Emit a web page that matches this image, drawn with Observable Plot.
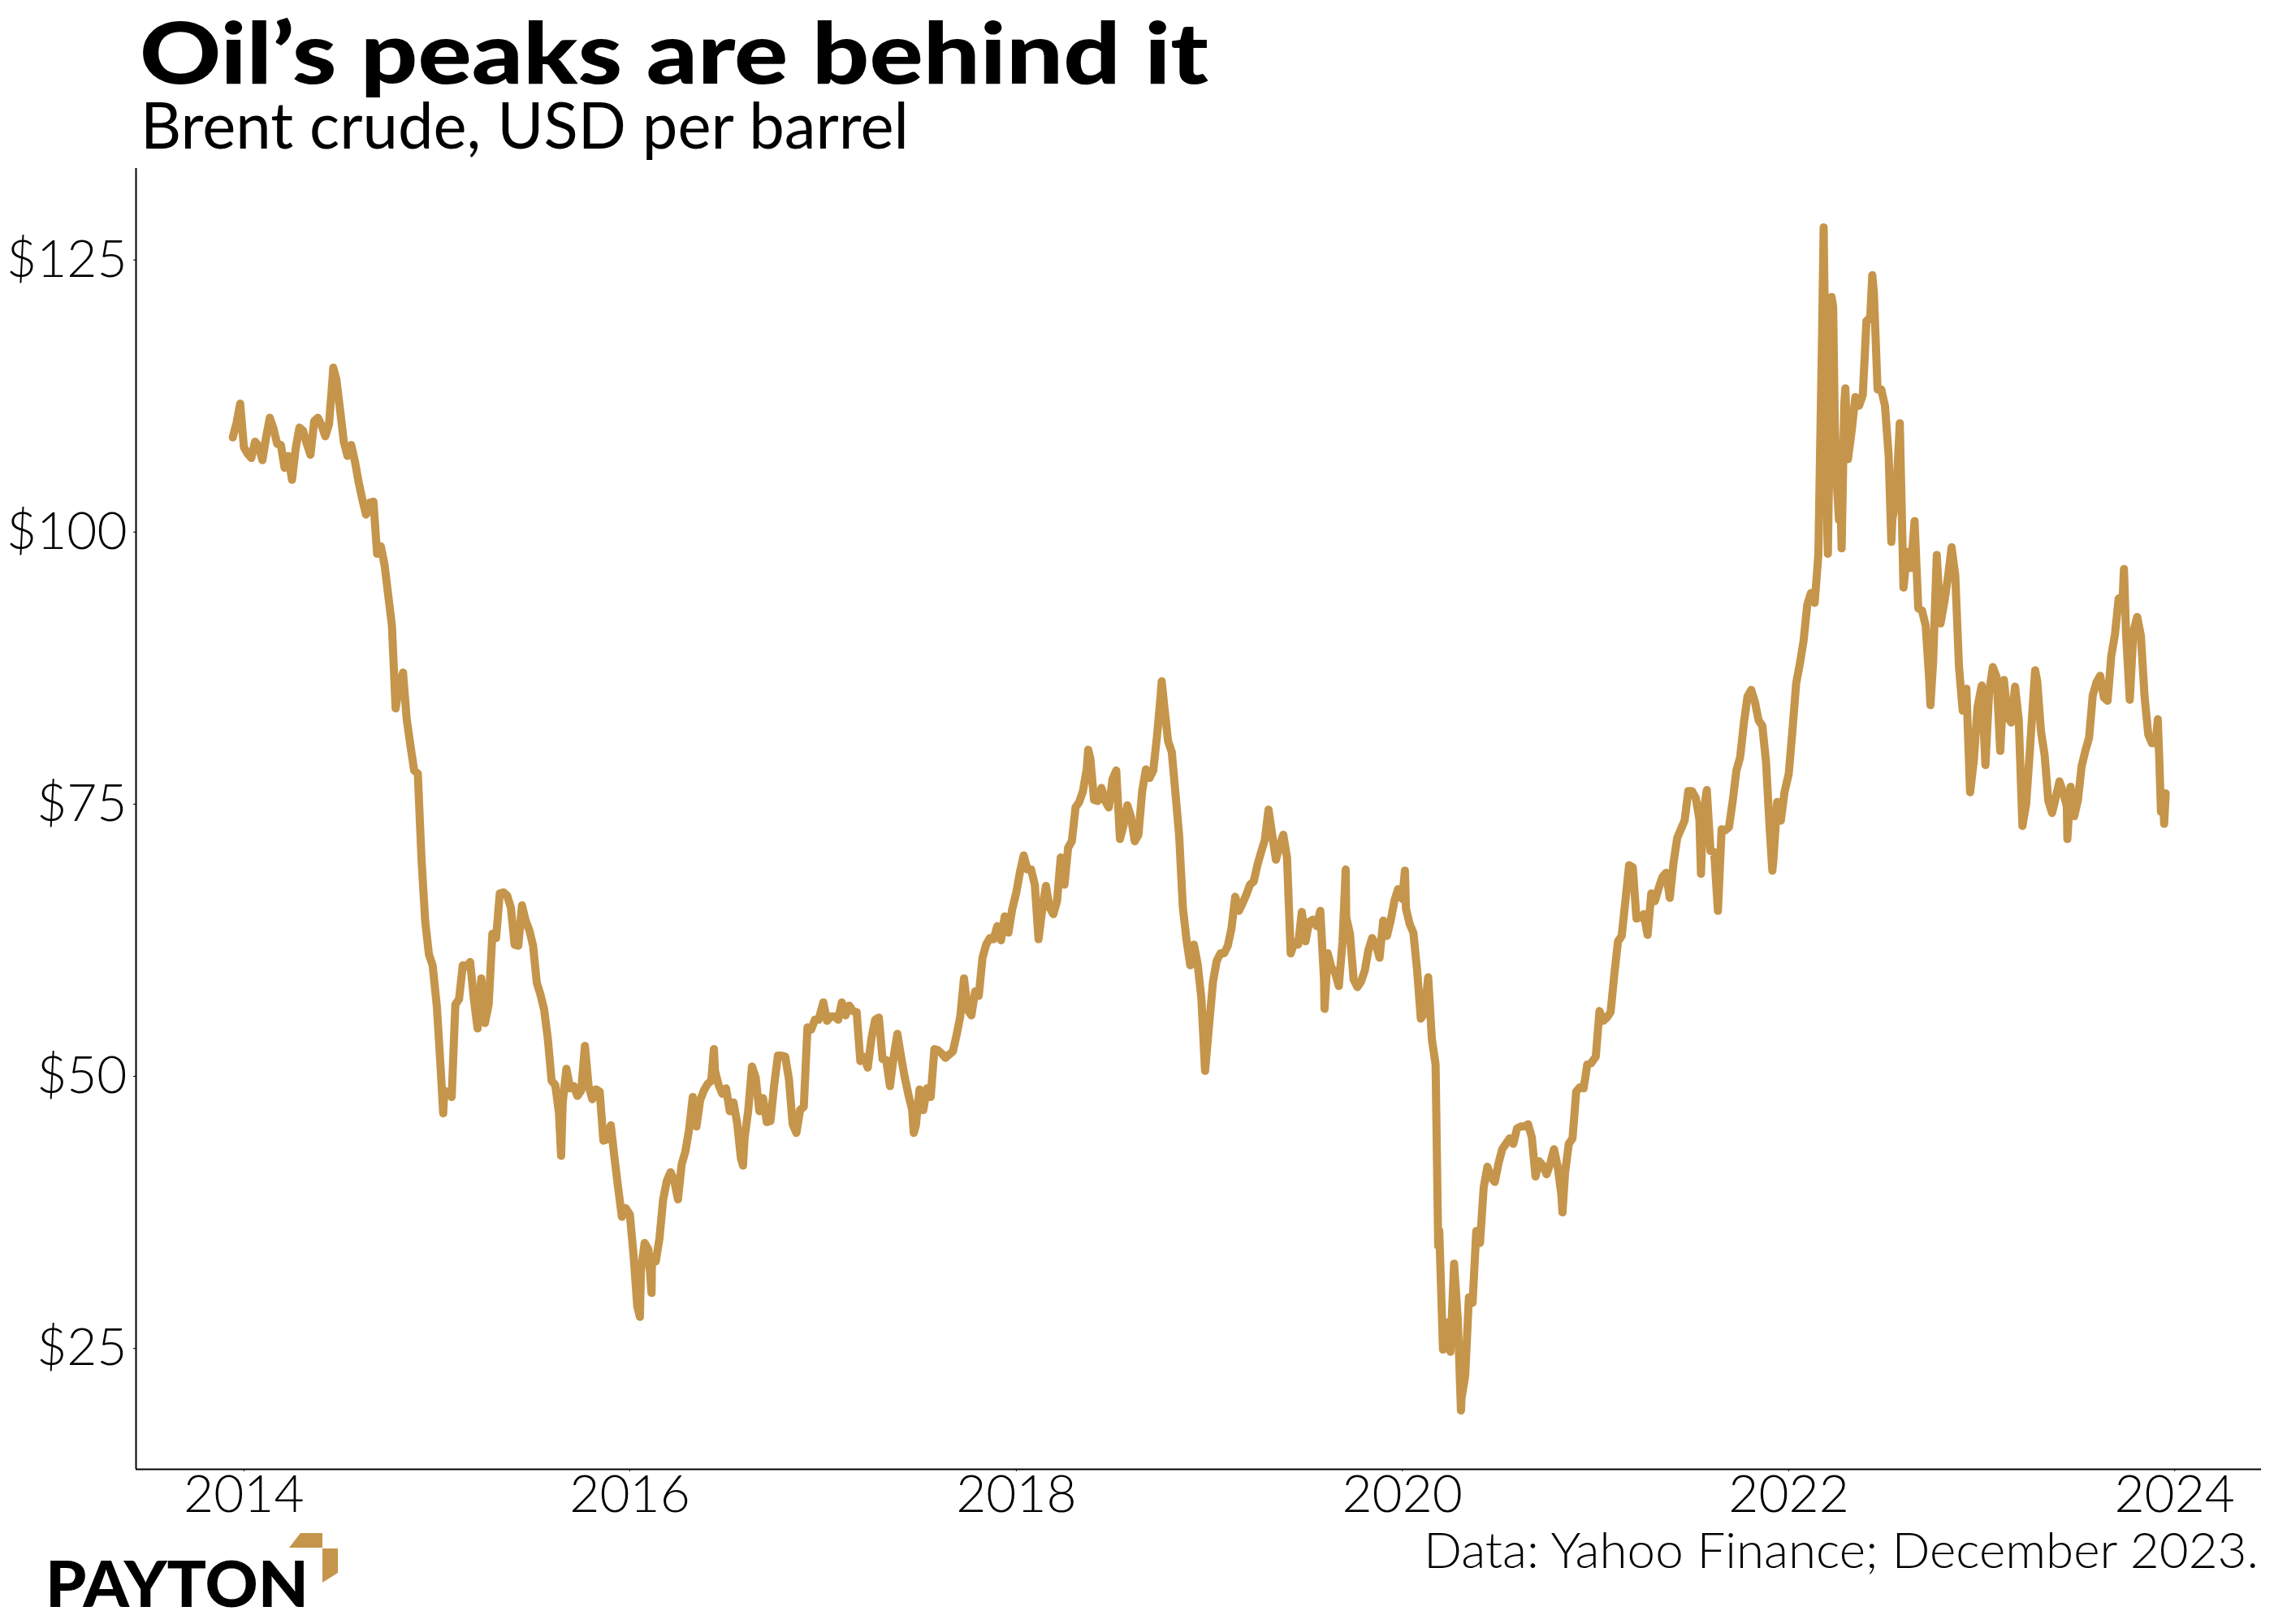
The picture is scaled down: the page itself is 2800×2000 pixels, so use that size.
<!DOCTYPE html>
<html>
<head>
<meta charset="utf-8">
<script src="https://cdn.jsdelivr.net/npm/d3@7"></script>
<script src="https://cdn.jsdelivr.net/npm/@observablehq/plot@0.6"></script>
<style>
  html, body { margin: 0; padding: 0; background: #fff; }
  #page { width: 2800px; height: 2000px; background: #fff; overflow: hidden; font-family: Lato, "Noto Sans", sans-serif; }
  #page svg { display: block; overflow: visible; }
  #footer { margin-top: -20px; position: relative; }
</style>
</head>
<body>
<div id="page">
  <svg id="header" width="2800" height="200"></svg>
  <div id="chart"></div>
  <svg id="footer" width="2800" height="140"></svg>
</div>
<script>
// ---------- text ----------
const titleText = "Oil\u2019s peaks are behind it";
const subtitleText = "Brent crude, USD per barrel";
const captionText = "Data: Yahoo Finance; December 2023.";
const logoText = "PAYTON";

// ---------- data (Brent, USD per barrel) ----------
// weekly readings; each array starts at the date in seriesStarts and steps 7 days
const seriesStarts = ["2013-12-11","2014-01-01","2015-01-01","2016-01-01","2017-01-01","2018-01-01","2019-01-01","2020-01-01","2021-01-01","2022-01-01","2023-01-01"];
const b2013 = [108.7, 110.0, 111.8];
const b2014 = [107.8,107.2,106.8,108.3,107.9,106.6,108.7,110.5,109.5,108.1,108.0,105.9,107.0,104.8,107.7,109.6,109.3,108.1,107.1,110.2,110.5,109.8,108.8,109.9,114.3,114.0,111.2,108.3,107.0,108.0,106.5,104.6,103.0,101.6,102.7,102.8,98.0,98.7,97.0,94.2,91.4,83.8,86.0,87.1,82.8,80.4,78.1,77.8,69.9,64.2,61.2,60.2];
const b2015 = [56.4,50.9,48.7,48.5,48.1,56.6,57.1,60.2,60.1,60.5,57.1,54.4,59.0,54.9,56.6,63.1,62.7,66.8,66.9,66.6,65.5,62.1,62.0,65.7,64.3,63.4,62.0,58.6,57.5,56.1,53.4,49.6,49.2,46.6,47.6,50.7,48.9,49.1,48.2,48.7,52.8,49.1,47.9,48.8,48.6,44.1,44.2,45.5,42.5,39.7,37.1,37.9];
const b2016 = [37.3,33.6,28.9,32.2,34.7,34.1,33.4,33.0,35.1,38.7,40.4,41.2,40.4,38.7,41.9,43.1,45.1,48.1,45.4,47.8,48.7,49.3,49.6,50.5,49.2,48.4,48.9,46.8,47.6,45.7,42.5,44.3,46.9,50.9,49.9,46.8,48.0,45.8,45.9,49.2,51.9,51.9,51.8,49.7,45.6,44.8,46.9,47.2,54.5,54.3,55.2,55.2];
const b2017 = [56.8,55.1,55.5,55.5,55.2,56.8,55.6,56.5,56.0,55.9,51.4,51.8,50.8,53.5,55.2,55.4,51.6,51.5,49.1,51.8,53.9,51.8,49.9,48.3,46.9,45.5,48.8,46.9,48.9,48.1,52.5,52.4,52.1,51.7,52.0,52.3,53.8,55.5,59.0,56.1,55.6,57.8,57.4,60.9,62.1,62.7,62.6,63.8,62.5,64.7,63.2,65.3];
const b2018 = [66.9,68.8,70.3,69.0,69.0,67.6,62.6,65.3,67.5,65.5,64.9,66.1,70.1,67.6,71.0,71.6,74.7,75.2,76.2,78.2,79.2,75.4,75.3,76.5,75.3,74.7,77.3,78.1,71.8,73.1,74.9,73.8,71.6,72.2,76.2,78.2,77.4,78.1,81.2,85.0,83.9,80.8,79.8,76.0,72.1,65.5,62.5,60.2,62.1,60.3,57.2,50.5];
const b2019 = [54.9,58.7,60.6,61.3,61.3,62.0,63.6,66.5,65.2,65.9,66.7,67.6,67.9,69.4,70.6,71.7,74.5,72.2,69.9,71.2,72.2,70.1,61.3,62.3,62.1,65.1,62.4,64.2,64.4,63.8,65.2,58.9,61.3,60.0,59.5,58.3,62.4,64.6,63.1,58.9,58.2,58.7,59.7,61.6,62.7,62.1,60.9,64.3,62.9,64.3,66.1,67.2];
const b2020 = [66.3,65.4,64.0,63.2,59.8,55.3,55.8,59.1,53.4,51.1,35.8,24.9,27.4,24.7,32.8,27.7,20.4,22.5,29.7,29.2,35.8,34.7,39.8,41.7,40.7,40.3,42.0,43.3,43.8,44.3,43.8,45.2,45.4,45.4,45.6,44.4,40.8,42.2,41.8,41.0,42.0,43.3,41.7,39.1,41.2,43.8,44.3,48.6,49.0,48.9,51.1,51.2];
const b2021 = [51.8,56.0,55.1,55.4,55.9,59.3,62.4,62.9,66.1,69.4,69.2,64.5,64.6,64.9,63.0,66.8,66.1,67.3,68.3,68.7,66.4,69.6,71.9,72.7,73.5,76.2,76.2,75.6,73.6,74.1,76.3,70.7,70.6,65.2,72.7,72.6,72.9,75.3,78.1,79.3,82.4,84.9,85.5,84.4,82.7,82.2,78.9,72.7,69.9,75.2,73.5,76.1];
const b2022 = [77.8,81.8,86.1,87.9,90.0,93.3,94.4,93.5,97.9,118.1,112.7,107.9,120.7,104.4,102.8,111.7,106.7,109.3,112.4,111.6,112.6,119.4,119.7,122.0,113.1,113.1,111.6,107.0,101.2,103.2,110.0,94.9,98.2,96.7,101.0,93.0,92.8,91.4,86.2,88.0,97.9,91.6,93.5,95.8,98.6,96.0,87.6,83.6,85.6,76.1,79.0,83.9];
const b2023 = [85.9,78.6,85.3,87.6,86.7,79.9,86.4,83.0,82.5,85.8,82.8,73.0,75.0,79.9,85.1,86.3,81.7,79.5,75.3,74.2,75.6,77.1,76.1,74.8,76.6,73.9,75.4,78.5,79.9,81.1,85.0,86.2,86.8,84.8,84.5,88.6,90.6,93.9,93.3,90.7,84.6,90.9,92.2,90.5,84.9,81.4,80.6,80.6,78.9,75.8];
// extra daily readings at the visible spikes and troughs
const spikeDates = ["2014-06-19","2015-01-13","2015-08-24","2016-01-20","2016-02-11","2016-06-08","2016-08-02","2017-06-21","2018-05-17","2018-10-03","2019-08-07","2019-09-16","2020-01-06","2020-03-09","2020-04-21","2020-10-30","2021-07-19","2021-12-01","2022-03-08","2022-03-15","2022-03-16","2022-03-21","2022-03-23","2022-03-29","2022-04-06","2022-04-11","2022-04-18","2022-06-08","2022-07-14","2022-09-26","2023-04-12","2023-06-12","2023-09-27","2023-11-30","2023-12-06","2023-12-12","2023-12-15"];
const spikeValues = [115.1,46.6,42.7,27.9,30.1,52.5,41.8,44.8,80.0,86.3,56.2,69.0,68.9,34.4,19.3,37.5,68.6,68.9,128.0,99.9,98.0,115.6,121.6,110.2,101.1,98.5,113.2,123.6,99.1,84.1,87.3,71.8,96.6,82.8,74.3,73.2,76.0];

const yTicks = [25, 50, 75, 100, 125];
const xTickYears = [2014, 2016, 2018, 2020, 2022, 2024];

// ---------- build table ----------
const weekly = [b2013,b2014,b2015,b2016,b2017,b2018,b2019,b2020,b2021,b2022,b2023];
const DAY = 864e5;
const data = [];
weekly.forEach((arr, k) => {
  const t0 = new Date(seriesStarts[k] + "T00:00:00Z").getTime();
  arr.forEach((v, i) => data.push({date: new Date(t0 + i * 7 * DAY), value: v}));
});
spikeDates.forEach((d, i) => data.push({date: new Date(d + "T00:00:00Z"), value: spikeValues[i]}));
data.sort((a, b) => a.date - b.date);

// ---------- styles ----------
const gold = "#C5954B";
const xDomain = [new Date("2013-06-11T00:00:00Z"), new Date("2024-06-13T00:00:00Z")];
const yDomain = [13.9, 133.4];

const chart = Plot.plot({
  width: 2800,
  height: 1680,
  marginLeft: 167,
  marginRight: 16,
  marginTop: 7,
  marginBottom: 71,
  style: {fontFamily: "Lato, 'Noto Sans', sans-serif", fontSize: "64px", fontWeight: 300, color: "#000", background: "#fff", overflow: "visible"},
  x: {type: "utc", domain: xDomain, ticks: xTickYears.map(y => new Date(Date.UTC(y, 0, 1))), tickFormat: d3.utcFormat("%Y"), tickSize: 3, tickPadding: 4, label: null},
  y: {domain: yDomain, ticks: yTicks, tickFormat: d => "$" + d, tickSize: 3, tickPadding: 8, label: null},
  marks: [
    Plot.lineY(data, {x: "date", y: "value", stroke: gold, strokeWidth: 10, strokeLinejoin: "round", strokeLinecap: "round"}),
    Plot.ruleX([xDomain[0]], {stroke: "#000", strokeWidth: 2}),
    Plot.ruleY([yDomain[0]], {stroke: "#000", strokeWidth: 2})
  ]
});
document.getElementById("chart").appendChild(chart);

// ---------- header ----------
const NS = "http://www.w3.org/2000/svg";
function addText(svg, txt, attrs) {
  const t = document.createElementNS(NS, "text");
  for (const k in attrs) t.setAttribute(k, attrs[k]);
  t.textContent = txt;
  svg.appendChild(t);
  return t;
}
const header = document.getElementById("header");
addText(header, titleText, {x: 172, y: 103, "font-family": "Lato", "font-weight": 900, "font-size": 104, fill: "#000", textLength: 1316, lengthAdjust: "spacingAndGlyphs"});
addText(header, subtitleText, {x: 173, y: 183, "font-family": "Lato", "font-weight": 400, "font-size": 80, fill: "#000", textLength: 946, lengthAdjust: "spacingAndGlyphs"});

// ---------- footer (starts at page y = 1860) ----------
const footer = document.getElementById("footer");
addText(footer, captionText, {x: 1753, y: 71, "font-family": "Lato", "font-weight": 300, "font-size": 62, fill: "#000", textLength: 1028, lengthAdjust: "spacingAndGlyphs"});
addText(footer, logoText, {x: 56, y: 119, "font-family": "Lato", "font-weight": 900, "font-size": 78, fill: "#000", textLength: 324, lengthAdjust: "spacingAndGlyphs"});
function addPoly(svg, pts, fill) {
  const p = document.createElementNS(NS, "polygon");
  p.setAttribute("points", pts);
  p.setAttribute("fill", fill);
  svg.appendChild(p);
}
addPoly(footer, "370,28 397,28 397,46 356,46", gold);
addPoly(footer, "397,47 416,47 416,77 397,89", gold);
</script>
</body>
</html>
